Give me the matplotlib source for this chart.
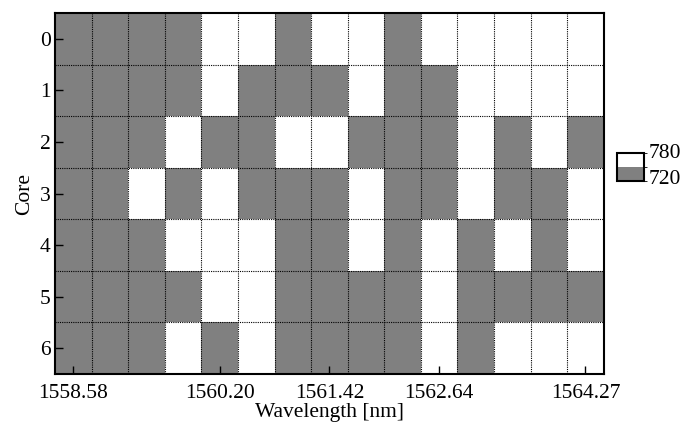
import numpy as np
import matplotlib
matplotlib.use("Agg")
import matplotlib.pyplot as plt
from matplotlib.colors import ListedColormap, BoundaryNorm

plt.rcParams['font.family'] = ['Liberation Serif', 'DejaVu Serif']

# channel wavelengths (nm), 15 columns
wavelengths = [1558.58, 1558.98, 1559.39, 1559.79, 1560.20, 1560.61, 1561.01,
               1561.42, 1561.83, 1562.23, 1562.64, 1563.05, 1563.45, 1563.86,
               1564.27]
cores = [0, 1, 2, 3, 4, 5, 6]
shown_ticks = [1558.58, 1560.20, 1561.42, 1562.64, 1564.27]
levels = [720, 780]

# G = 720, W = 780, one string per core
rows = [
    "GGGGWWGWWGWWWWW",
    "GGGGWGGGWGGWWWW",
    "GGGWGGWWGGGWGWG",
    "GGWGWGGGWGGWGGW",
    "GGGWWWGGWGWGWGW",
    "GGGGWWGGGGWGGGG",
    "GGGWGWGGGGWGWWW",
]
grid = np.array([[720 if c == "G" else 780 for c in r] for r in rows])

fs = 15.5
fig = plt.figure(figsize=(6.94, 4.23), dpi=100)
ax = fig.add_axes([0.0793, 0.1158, 0.7907, 0.8535])

cmap = ListedColormap(['#808080', 'white'])
norm = BoundaryNorm([690, 750, 810], cmap.N)
xe = np.arange(len(wavelengths) + 1) - 0.5
ye = np.arange(len(cores) + 1) - 0.5
mesh = ax.pcolormesh(xe, ye, grid, cmap=cmap, norm=norm)
ax.set_xlim(xe[0], xe[-1])
ax.set_ylim(ye[-1], ye[0])

ax.set_xticks([wavelengths.index(w) for w in shown_ticks])
ax.set_xticklabels(["%.2f" % w for w in shown_ticks], fontsize=fs)
ax.set_yticks(cores)
ax.set_yticklabels([str(c) for c in cores], fontsize=fs)
ax.set_xticks(xe[1:-1], minor=True)
ax.set_yticks(ye[1:-1], minor=True)
ax.grid(which='minor', color='k', linestyle=(0, (1, 1)), linewidth=0.8)
ax.tick_params(which='major', direction='in', length=6, width=1)
ax.tick_params(axis='x', which='major', pad=7)
ax.tick_params(axis='y', which='major', pad=3)
ax.tick_params(which='minor', length=0)
for s in ax.spines.values():
    s.set_linewidth(1.5)

ax.set_xlabel("Wavelength [nm]", fontsize=fs, labelpad=0)
ax.set_ylabel("Core", fontsize=fs, labelpad=4)

# two-level key to the right of the map
cax = fig.add_axes([0.889, 0.572, 0.039, 0.066])
cb = fig.colorbar(mesh, cax=cax, ticks=[])
cb.outline.set_linewidth(1.5)
cax.text(1.18, 1.0, str(levels[1]), transform=cax.transAxes,
         fontsize=fs, va='center', ha='left')
cax.text(1.18, 0.05, str(levels[0]), transform=cax.transAxes,
         fontsize=fs, va='center', ha='left')

fig.savefig("out.png", dpi=100)
